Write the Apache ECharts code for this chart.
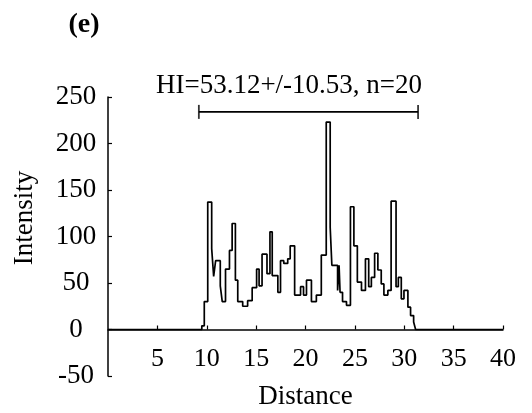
<!DOCTYPE html>
<html>
<head>
<meta charset="utf-8">
<script src="https://cdn.jsdelivr.net/npm/echarts@6/dist/echarts.min.js"></script>
<style>
html, body { margin: 0; padding: 0; background: #fff; }
#container { width: 532px; height: 413px; }
</style>
</head>
<body>
<div id="container"></div>
<script>
// step profile: each value holds from its distance until the next one
var distance = [0, 9.5, 9.75, 10.1, 10.5, 10.7, 10.9, 11.37, 11.57, 11.9, 12.3, 12.57, 12.9, 13.14, 13.64, 14.14,
    14.6, 15.05, 15.3, 15.6, 16.1, 16.4, 16.63, 17.2, 17.47, 17.8, 18.2, 18.45, 18.9, 19.5, 19.8, 20.1,
    20.6, 21.1, 21.6, 22.1, 22.5, 22.67, 23.25, 23.4, 23.5, 23.75, 24.15, 24.55, 24.9, 25.25, 25.67,
    26.07, 26.4, 26.67, 27.0, 27.33, 27.67, 27.94, 28.34, 28.67, 29.17, 29.4, 29.7, 29.97, 30.37,
    30.64, 30.95, 31.15, 40];
var intensity = [0, 4, 30, 137, 87, 57, 74, 47, 30, 65, 85, 114, 53, 30, 25, 31,
    45, 65, 47, 81, 60, 105, 58, 40, 74, 71, 76, 90, 37, 46, 37, 53,
    30, 37, 80, 223, 110, 69, 42, 69, 40, 30, 26, 132, 90, 51, 42,
    76, 46, 56, 82, 64, 49, 37, 42, 138, 46, 56, 33, 42, 24,
    15, 8, 0, 0];

var xTicks = [0, 40, 5];      // min, max, interval
var yTicks = [-50, 250, 50];

// HI range bar
var hiStart = 9.2;
var hiEnd = 31.4;
var hiLevel = 234;
var hiText = 'HI=53.12+/-10.53, n=20';

var font = 'Liberation Serif';

var profile = [];
for (var i = 0; i < distance.length; i++) {
    profile.push([distance[i], intensity[i]]);
}

var gridTop = 97, gridBottom = 37, chartH = 413;
// move the x axis up onto intensity 0
var zeroShift = (chartH - gridTop - gridBottom) * (0 - yTicks[0]) / (yTicks[1] - yTicks[0]);

var dom = document.getElementById('container');
var myChart = echarts.init(dom);
var option = {
    backgroundColor: '#fff',
    animation: false,
    grid: { left: 108, right: 29, top: gridTop, bottom: gridBottom, containLabel: false, outerBoundsMode: 'none' },
    xAxis: {
        type: 'value',
        min: xTicks[0],
        max: xTicks[1],
        interval: xTicks[2],
        offset: -zeroShift,
        name: 'Distance',
        nameLocation: 'middle',
        nameGap: 54,
        nameTextStyle: { fontFamily: font, fontSize: 27, color: '#000' },
        splitLine: { show: false },
        axisLine: { show: true, onZero: false, lineStyle: { color: '#000', width: 1.5 } },
        axisTick: { show: true, inside: true, length: 4, lineStyle: { color: '#000', width: 1.2 } },
        axisLabel: {
            showMinLabel: false,
            margin: 17,
            fontFamily: font,
            fontSize: 26,
            color: '#000'
        }
    },
    yAxis: {
        type: 'value',
        min: yTicks[0],
        max: yTicks[1],
        interval: yTicks[2],
        splitLine: { show: false },
        axisLine: { show: true, onZero: false, lineStyle: { color: '#000', width: 1.5 } },
        axisTick: { show: true, inside: true, length: 4, lineStyle: { color: '#000', width: 1.2 } },
        axisLabel: {
            align: 'center',
            margin: 32,
            fontFamily: font,
            fontSize: 27,
            color: '#000'
        }
    },
    graphic: [
        {
            type: 'text',
            x: 84, y: 25,
            style: { text: '(e)', font: 'bold 28px "Liberation Serif"', fill: '#000', align: 'center', verticalAlign: 'middle' }
        },
        {
            type: 'text',
            x: 25, y: 218,
            rotation: Math.PI / 2,
            style: { text: 'Intensity', font: '27px "Liberation Serif"', fill: '#000', align: 'center', verticalAlign: 'middle' }
        },
        {
            type: 'text',
            x: 289, y: 86,
            style: { text: hiText, font: '27px "Liberation Serif"', fill: '#000', align: 'center', verticalAlign: 'middle' }
        }
    ],
    series: [
        {
            name: 'profile',
            type: 'line',
            step: 'end',
            symbol: 'none',
            data: profile,
            lineStyle: { color: '#000', width: 1.7 },
            z: 3
        },
        {
            name: 'hi',
            type: 'line',
            symbol: 'none',
            data: [[hiStart, hiLevel], [hiEnd, hiLevel]],
            lineStyle: { color: '#000', width: 1.8 }
        },
        {
            name: 'hiCaps',
            type: 'scatter',
            symbol: 'rect',
            symbolSize: [1.8, 14],
            itemStyle: { color: '#000' },
            data: [[hiStart, hiLevel], [hiEnd, hiLevel]]
        }
    ]
};

if (option && typeof option === 'object') {
    myChart.setOption(option, true);
}
</script>
</body>
</html>
